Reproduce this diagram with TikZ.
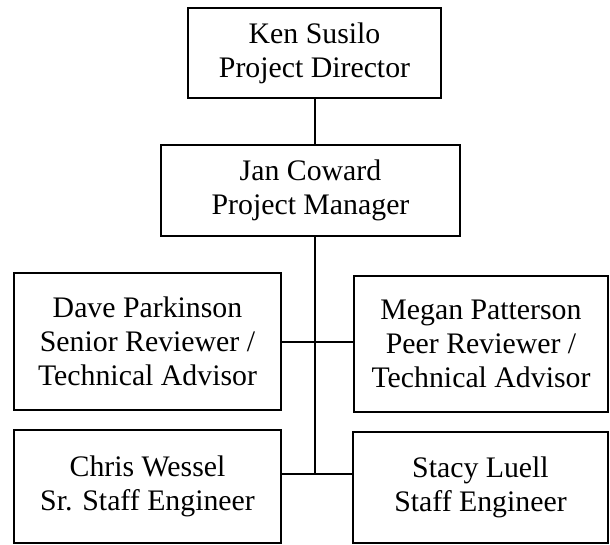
\documentclass[tikz,border=0pt]{standalone}
\usepackage{fontspec}
\setmainfont{Liberation Serif}
\begin{document}
\begin{tikzpicture}[x=1pt,y=-1pt,
  box/.style={draw=black, line width=2pt, rectangle, outer sep=0pt, inner sep=0pt,
    align=center, font=\fontsize{29.8}{34}\selectfont},
  conn/.style={draw=black, line width=1.7pt}]
\useasboundingbox (0,0) rectangle (610,545);
\node[box, minimum width=253pt, minimum height=90pt] (b1) at (314.5,53) {Ken Susilo\\Project Director};
\node[box, minimum width=299pt, minimum height=91pt] (b2) at (310.5,190.5) {Jan Coward\\Project Manager};
\node[box, minimum width=267pt, minimum height=137pt] (b3) at (147.5,341.5) {Dave Parkinson\\Senior Reviewer /\\Technical Advisor};
\node[box, minimum width=254pt, minimum height=136pt] (b4) at (481,344) {Megan Patterson\\Peer Reviewer /\\Technical Advisor};
\node[box, minimum width=267pt, minimum height=113pt] (b5) at (147.5,486.5) {Chris Wessel\\Sr. Staff Engineer};
\node[box, minimum width=255pt, minimum height=111pt] (b6) at (480.5,487.5) {Stacy Luell\\Staff Engineer};
\coordinate (j1) at (315,342);
\coordinate (j2) at (315,474);
\draw[conn] (b1.south -| j1) -- (b2.north -| j1);
\draw[conn] (b2.south -| j1) -- (j2);
\draw[conn] (b3.east |- j1) -- (b4.west |- j1);
\draw[conn] (b5.east |- j2) -- (b6.west |- j2);
\end{tikzpicture}
\end{document}
